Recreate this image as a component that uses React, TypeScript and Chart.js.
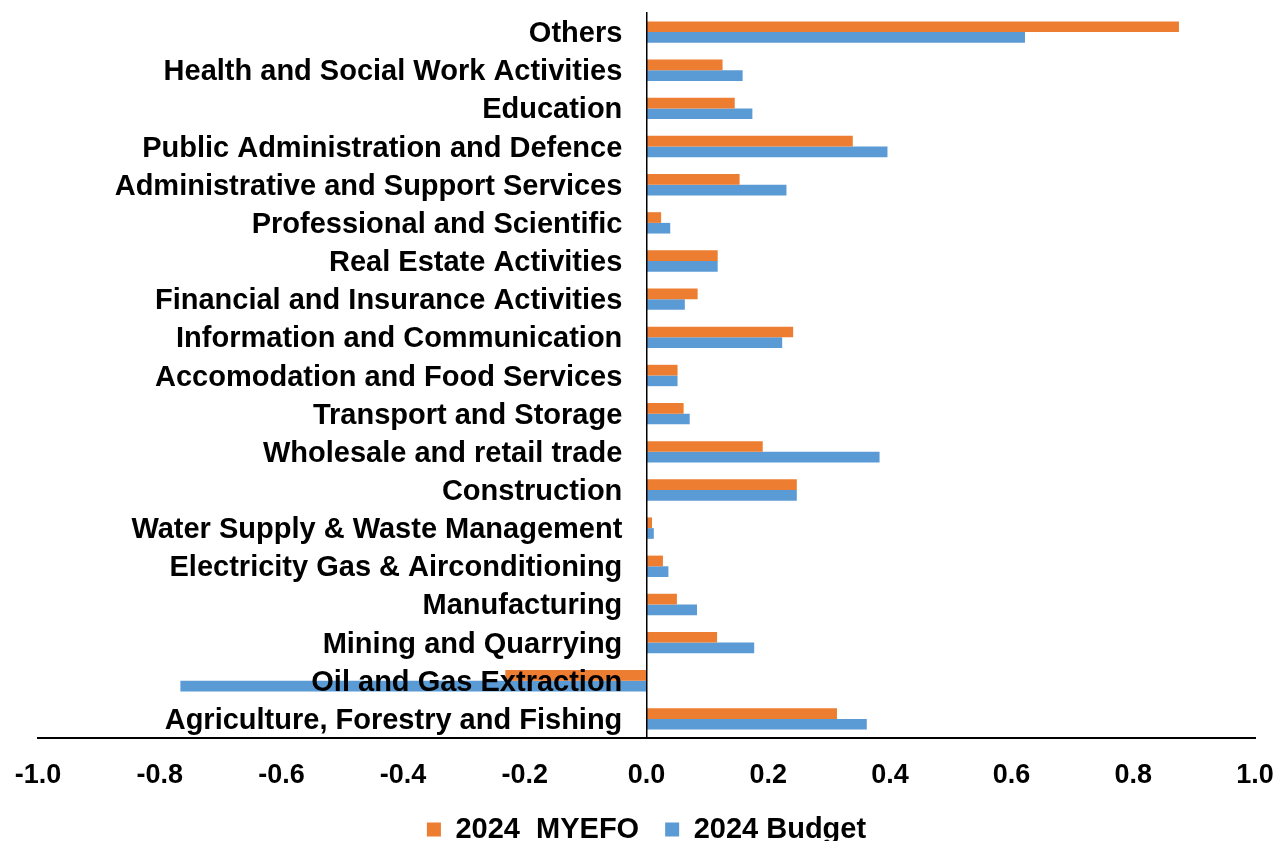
import React, { useEffect, useRef } from "react";
import { Chart, registerables } from "chart.js";

Chart.register(...registerables);

const categories = [
  "Others",
  "Health and Social Work Activities",
  "Education",
  "Public Administration and Defence",
  "Administrative and Support Services",
  "Professional and Scientific",
  "Real Estate Activities",
  "Financial and Insurance Activities",
  "Information and Communication",
  "Accomodation and Food Services",
  "Transport and Storage",
  "Wholesale and retail trade",
  "Construction",
  "Water Supply & Waste Management",
  "Electricity Gas & Airconditioning",
  "Manufacturing",
  "Mining and Quarrying",
  "Oil and Gas Extraction",
  "Agriculture, Forestry and Fishing",
];

const myefo2024 = [
  0.875, 0.125, 0.145, 0.339, 0.153, 0.024, 0.117, 0.084, 0.241, 0.051, 0.061,
  0.191, 0.247, 0.009, 0.027, 0.05, 0.116, -0.232, 0.313,
];

const budget2024 = [
  0.622, 0.158, 0.174, 0.396, 0.23, 0.039, 0.117, 0.063, 0.223, 0.051, 0.071,
  0.383, 0.247, 0.012, 0.036, 0.083, 0.177, -0.766, 0.362,
];

const seriesNames = ["2024  MYEFO", "2024 Budget"];
const xMin = -1.0;
const xMax = 1.0;
const xStep = 0.2;

const FONT = "'Liberation Sans', Arial, sans-serif";

export default function App() {
  const ref = useRef<HTMLCanvasElement | null>(null);

  useEffect(() => {
    if (!ref.current) return;
    const chart = new Chart(ref.current, {
      type: "bar",
      data: {
        labels: categories,
        datasets: [
          {
            label: seriesNames[0],
            data: myefo2024,
            backgroundColor: "#ED7D31",
            borderWidth: 0,
            categoryPercentage: 0.56,
            barPercentage: 1.0,
          },
          {
            label: seriesNames[1],
            data: budget2024,
            backgroundColor: "#5B9BD5",
            borderWidth: 0,
            categoryPercentage: 0.56,
            barPercentage: 1.0,
          },
        ],
      },
      options: {
        indexAxis: "y",
        animation: false,
        responsive: false,
        maintainAspectRatio: false,
        layout: { padding: { top: 13, left: 38, right: 23, bottom: 0 } },
        plugins: {
          legend: {
            display: true,
            position: "bottom",
            labels: {
              color: "#000",
              font: { family: FONT, size: 29, weight: "bold" },
              boxWidth: 14,
              boxHeight: 14,
              padding: 26,
            },
          },
          tooltip: { enabled: false },
        },
        scales: {
          x: {
            type: "linear",
            min: xMin,
            max: xMax,
            grid: {
              display: true,
              drawOnChartArea: false,
              drawTicks: true,
              tickLength: 24,
              tickColor: "rgba(0,0,0,0)",
            },
            border: { display: true, color: "#000", width: 2 },
            ticks: {
              stepSize: xStep,
              padding: 0,
              color: "#000",
              font: { family: FONT, size: 27, weight: "bold", lineHeight: 1.0 },
              callback: (v: any) => {
                const n = Number(v);
                return Math.abs(n) < 1e-9 ? "0.0" : n.toFixed(1);
              },
            },
          },
          y: {
            type: "category",
            position: { x: 0 } as any,
            grid: { display: false, drawTicks: false },
            border: { display: true, color: "#000", width: 1.5, z: 1 },
            ticks: {
              z: 1,
              padding: 0,
              labelOffset: 2,
              color: "#000",
              autoSkip: false,
              font: { family: FONT, size: 29, weight: "bold", lineHeight: 0.88 },
              callback: function (this: any, v: any) {
                return this.getLabelForValue(v) + "   ";
              },
            },
          },
        },
      },
    });
    return () => chart.destroy();
  }, []);

  return (
    <div style={{ position: "absolute", left: 0, top: 0, width: 1278, height: 841, overflow: "hidden", background: "#fff" }}>
      <canvas ref={ref} width={1278} height={854} style={{ display: "block" }} />
    </div>
  );
}
